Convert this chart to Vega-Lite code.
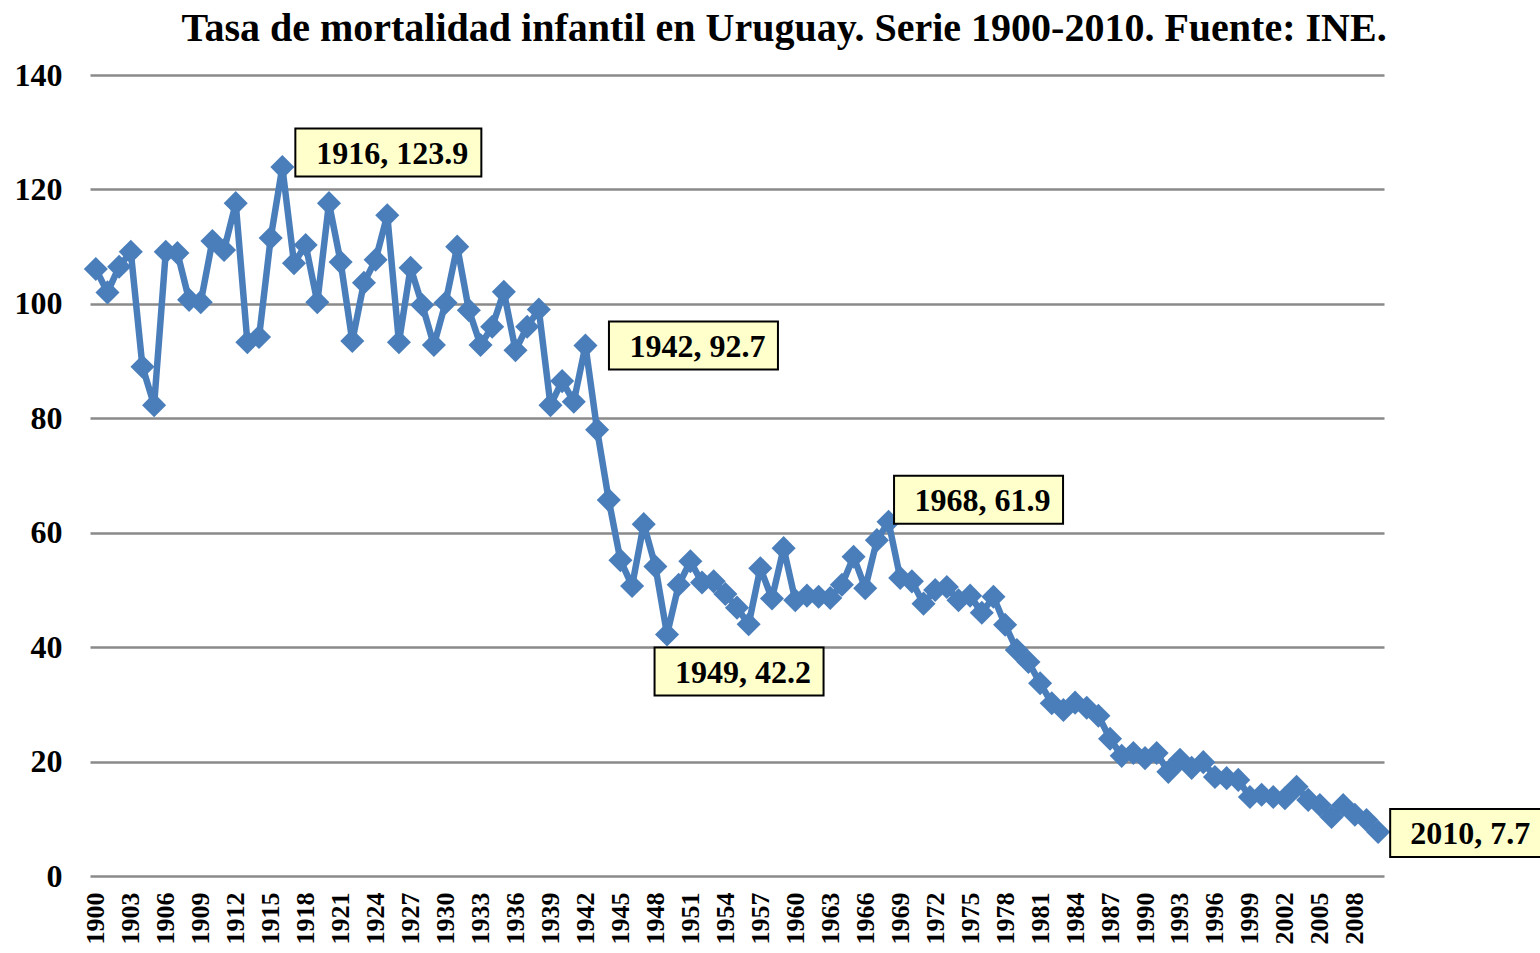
{
  "$schema": "https://vega.github.io/schema/vega-lite/v6.json",
  "width": 1294,
  "height": 801,
  "autosize": {"type": "none"},
  "padding": {"left": 90, "top": 75, "right": 156, "bottom": 77},
  "background": "white",
  "config": {
    "font": "Liberation Serif",
    "view": {"stroke": null}
  },
  "title": {
    "text": "Tasa de mortalidad infantil en Uruguay. Serie 1900-2010. Fuente: INE.",
    "font": "Liberation Serif",
    "fontSize": 40,
    "fontWeight": "bold",
    "color": "black",
    "anchor": "middle",
    "frame": "group",
    "baseline": "alphabetic",
    "offset": 0,
    "dx": 47,
    "dy": 22
  },
  "data": {
    "values": [
      {"year": 1900, "rate": 106.1}, {"year": 1901, "rate": 102.0}, {"year": 1902, "rate": 106.5}, {"year": 1903, "rate": 109.1},
      {"year": 1904, "rate": 89.0}, {"year": 1905, "rate": 82.3}, {"year": 1906, "rate": 109.1}, {"year": 1907, "rate": 108.9},
      {"year": 1908, "rate": 100.7}, {"year": 1909, "rate": 100.3}, {"year": 1910, "rate": 111.0}, {"year": 1911, "rate": 109.4},
      {"year": 1912, "rate": 117.6}, {"year": 1913, "rate": 93.3}, {"year": 1914, "rate": 94.2}, {"year": 1915, "rate": 111.5},
      {"year": 1916, "rate": 123.9}, {"year": 1917, "rate": 107.1}, {"year": 1918, "rate": 110.3}, {"year": 1919, "rate": 100.3},
      {"year": 1920, "rate": 117.6}, {"year": 1921, "rate": 107.3}, {"year": 1922, "rate": 93.5}, {"year": 1923, "rate": 103.7},
      {"year": 1924, "rate": 107.7}, {"year": 1925, "rate": 115.5}, {"year": 1926, "rate": 93.3}, {"year": 1927, "rate": 106.3},
      {"year": 1928, "rate": 99.8}, {"year": 1929, "rate": 92.8}, {"year": 1930, "rate": 100.2}, {"year": 1931, "rate": 110.0},
      {"year": 1932, "rate": 98.9}, {"year": 1933, "rate": 92.8}, {"year": 1934, "rate": 96.0}, {"year": 1935, "rate": 102.1},
      {"year": 1936, "rate": 91.9}, {"year": 1937, "rate": 96.0}, {"year": 1938, "rate": 99.0}, {"year": 1939, "rate": 82.3},
      {"year": 1940, "rate": 86.5}, {"year": 1941, "rate": 82.9}, {"year": 1942, "rate": 92.7}, {"year": 1943, "rate": 78.0},
      {"year": 1944, "rate": 65.7}, {"year": 1945, "rate": 55.2}, {"year": 1946, "rate": 50.7}, {"year": 1947, "rate": 61.5},
      {"year": 1948, "rate": 54.1}, {"year": 1949, "rate": 42.2}, {"year": 1950, "rate": 50.9}, {"year": 1951, "rate": 55.0},
      {"year": 1952, "rate": 51.3}, {"year": 1953, "rate": 51.5}, {"year": 1954, "rate": 49.3}, {"year": 1955, "rate": 46.9},
      {"year": 1956, "rate": 44.0}, {"year": 1957, "rate": 53.8}, {"year": 1958, "rate": 48.5}, {"year": 1959, "rate": 57.3},
      {"year": 1960, "rate": 48.2}, {"year": 1961, "rate": 49.0}, {"year": 1962, "rate": 48.8}, {"year": 1963, "rate": 48.6},
      {"year": 1964, "rate": 50.9}, {"year": 1965, "rate": 55.8}, {"year": 1966, "rate": 50.3}, {"year": 1967, "rate": 58.7},
      {"year": 1968, "rate": 61.9}, {"year": 1969, "rate": 52.1}, {"year": 1970, "rate": 51.5}, {"year": 1971, "rate": 47.6},
      {"year": 1972, "rate": 50.0}, {"year": 1973, "rate": 50.5}, {"year": 1974, "rate": 48.2}, {"year": 1975, "rate": 49.0},
      {"year": 1976, "rate": 46.0}, {"year": 1977, "rate": 48.8}, {"year": 1978, "rate": 43.9}, {"year": 1979, "rate": 39.5},
      {"year": 1980, "rate": 37.4}, {"year": 1981, "rate": 33.7}, {"year": 1982, "rate": 30.2}, {"year": 1983, "rate": 29.0},
      {"year": 1984, "rate": 30.3}, {"year": 1985, "rate": 29.4}, {"year": 1986, "rate": 28.0}, {"year": 1987, "rate": 24.0},
      {"year": 1988, "rate": 21.0}, {"year": 1989, "rate": 21.5}, {"year": 1990, "rate": 20.6}, {"year": 1991, "rate": 21.5},
      {"year": 1992, "rate": 18.2}, {"year": 1993, "rate": 20.3}, {"year": 1994, "rate": 18.9}, {"year": 1995, "rate": 19.9},
      {"year": 1996, "rate": 17.3}, {"year": 1997, "rate": 17.1}, {"year": 1998, "rate": 16.8}, {"year": 1999, "rate": 13.8},
      {"year": 2000, "rate": 14.2}, {"year": 2001, "rate": 13.8}, {"year": 2002, "rate": 13.6}, {"year": 2003, "rate": 15.6},
      {"year": 2004, "rate": 13.3}, {"year": 2005, "rate": 12.4}, {"year": 2006, "rate": 10.3}, {"year": 2007, "rate": 12.4},
      {"year": 2008, "rate": 10.7}, {"year": 2009, "rate": 9.8}, {"year": 2010, "rate": 7.7}
    ]
  },
  "encoding": {
    "x": {
      "field": "year",
      "type": "quantitative",
      "scale": {"domain": [1899.5, 2010.5], "nice": false, "zero": false},
      "axis": {
        "title": null,
        "values": [1900,1903,1906,1909,1912,1915,1918,1921,1924,1927,1930,1933,1936,1939,1942,1945,1948,1951,1954,1957,1960,1963,1966,1969,1972,1975,1978,1981,1984,1987,1990,1993,1996,1999,2002,2005,2008],
        "format": "d",
        "labelAngle": 270,
        "labelAlign": "right",
        "labelBaseline": "middle",
        "labelFont": "Liberation Serif",
        "labelFontSize": 26,
        "labelFontWeight": "bold",
        "labelColor": "black",
        "labelPadding": 16,
        "labelOverlap": false,
        "labelFlush": false,
        "ticks": false,
        "domain": false,
        "grid": false
      }
    },
    "y": {
      "field": "rate",
      "type": "quantitative",
      "scale": {"domain": [0, 140], "nice": false},
      "axis": {
        "title": null,
        "values": [0, 20, 40, 60, 80, 100, 120, 140],
        "labelFont": "Liberation Serif",
        "labelFontSize": 32,
        "labelFontWeight": "bold",
        "labelColor": "black",
        "labelPadding": 28,
        "ticks": false,
        "domain": false,
        "grid": true,
        "gridColor": "#8a8a8a",
        "gridWidth": 2.5
      }
    }
  },
  "layer": [
    {
      "mark": {"type": "line", "color": "#4A7EBB", "strokeWidth": 6.5, "strokeJoin": "round"}
    },
    {
      "mark": {"type": "point", "shape": "diamond", "size": 580, "filled": true, "color": "#4A7EBB", "opacity": 1}
    },
    {
      "transform": [
        {"filter": "datum.year == 1916 || datum.year == 1942 || datum.year == 1949 || datum.year == 1968 || datum.year == 2010"}
      ],
      "mark": {
        "type": "point",
        "size": 4,
        "filled": true,
        "opacity": 1,
        "fill": "#FFFFCC",
        "stroke": "black",
        "strokeWidth": 2,
        "shape": {"expr": "datum.year == 1916 ? 'M-93,-24L93,-24L93,24L-93,24Z' : datum.year == 2010 ? 'M-76,-24L76,-24L76,24L-76,24Z' : 'M-84.5,-24L84.5,-24L84.5,24L-84.5,24Z'"},
        "xOffset": {"expr": "datum.year == 1916 ? 106 : datum.year == 1942 ? 108 : datum.year == 1949 ? 72 : datum.year == 1968 ? 90 : 88"},
        "yOffset": {"expr": "datum.year == 1916 ? -14.5 : datum.year == 1942 ? 0 : datum.year == 1949 ? 37 : datum.year == 1968 ? -22 : 1"}
      }
    },
    {
      "transform": [
        {"filter": "datum.year == 1916 || datum.year == 1942 || datum.year == 1949 || datum.year == 1968 || datum.year == 2010"},
        {"calculate": "datum.year + ', ' + format(datum.rate, '.1f')", "as": "label"}
      ],
      "mark": {
        "type": "text",
        "font": "Liberation Serif",
        "fontSize": 32,
        "fontWeight": "bold",
        "color": "black",
        "align": "center",
        "baseline": "middle",
        "xOffset": {"expr": "(datum.year == 1916 ? 106 : datum.year == 1942 ? 108 : datum.year == 1949 ? 72 : datum.year == 1968 ? 90 : 88) + 4"},
        "yOffset": {"expr": "(datum.year == 1916 ? -14.5 : datum.year == 1942 ? 0 : datum.year == 1949 ? 37 : datum.year == 1968 ? -22 : 1) + 1"}
      },
      "encoding": {"text": {"field": "label"}}
    }
  ]
}
